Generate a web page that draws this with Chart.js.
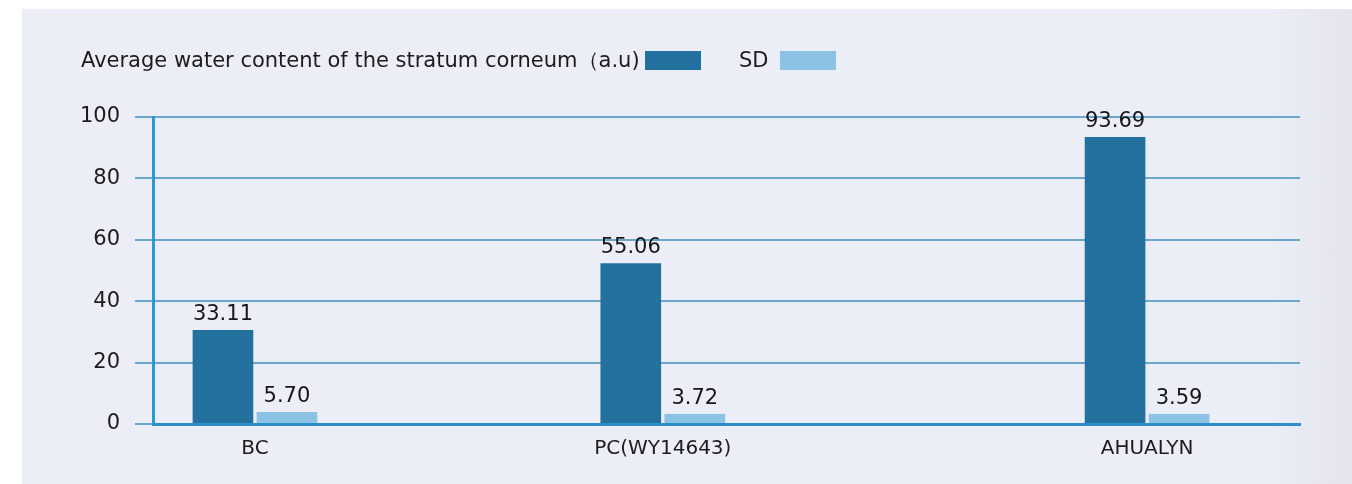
<!DOCTYPE html>
<html lang="en">
    <head>
        <meta charset="UTF-8">
        <title>Average water content of the stratum corneum</title>
        <script src="https://cdn.jsdelivr.net/npm/chart.js"></script>
        <style>
            body {
                margin: 0;
                background: white;
                font-family: 'DejaVu Sans', sans-serif;
            }
            .panel {
                position: absolute;
                left: 22px;
                top: 9px;
                width: 1330px;
                height: 475px;
                background: linear-gradient(to right, #ebeef6 0%, #ebeef6 94%, #e3e4ec 100%);
            }
            .legend span {
                position: absolute;
                font-size: 21px;
                line-height: 24px;
                color: #1c1c1c;
                white-space: nowrap;
            }
            .legend .box {
                height: 19px;
                width: 56px;
                top: 42px;
            }
            canvas {
                position: absolute;
                left: 0;
                top: 0;
            }
        </style>
    </head>
    <body>
        <div class="panel">
            <canvas id="waterChart" width="1330" height="475"></canvas>
            <div class="legend" id="legend"></div>
        </div>
        <script>
            // data
            const categories = ['BC', 'PC(WY14643)', 'AHUALYN'];
            const waterValues = [30.6, 52.4, 93.5];
            const sdValues = [3.9, 3.3, 3.3];
            const waterLabels = ['33.11', '55.06', '93.69'];
            const sdLabels = ['5.70', '3.72', '3.59'];
            const seriesNames = ['Average water content of the stratum corneum\uFF08a.u)', 'SD'];
            const yTicks = [0, 20, 40, 60, 80, 100];

            // the groups are not evenly spaced, so the x axis has 46 slots
            const slotCount = 46;
            const categorySlots = [4, 20, 39];
            const axisLabels = [];
            for (let i = 0; i < slotCount; i++) {
                const k = categorySlots.indexOf(i);
                axisLabels.push(k >= 0 ? categories[k] : '');
            }

            const darkBlue = '#23719f';
            const lightBlue = '#8cc3e5';
            const fontFamily = '"DejaVu Sans", sans-serif';

            const legend = document.getElementById('legend');
            legend.innerHTML = `
                <span style="left:59px;top:39px">${seriesNames[0]}</span>
                <span class="box" style="left:623px;background:${darkBlue}"></span>
                <span style="left:717px;top:39px">${seriesNames[1]}</span>
                <span class="box" style="left:758px;background:${lightBlue}"></span>
            `;

            const valueLabels = {
                id: 'valueLabels',
                afterDatasetsDraw(chart) {
                    const ctx = chart.ctx;
                    const texts = [waterLabels, sdLabels];
                    ctx.save();
                    ctx.font = '21px ' + fontFamily;
                    ctx.fillStyle = '#161616';
                    ctx.textAlign = 'center';
                    ctx.textBaseline = 'bottom';
                    chart.data.datasets.forEach(function(ds, di) {
                        chart.getDatasetMeta(di).data.forEach(function(bar, i) {
                            ctx.fillText(texts[di][i], bar.x, bar.y - 5);
                        });
                    });
                    ctx.restore();
                }
            };

            const ctx = document.getElementById('waterChart').getContext('2d');
            new Chart(ctx, {
                type: 'bar',
                data: {
                    labels: axisLabels,
                    datasets: [{
                        label: seriesNames[0],
                        data: categories.map(function(c, i) { return { x: c, y: waterValues[i] }; }),
                        backgroundColor: darkBlue,
                        borderColor: 'rgba(0,0,0,0)',
                        borderWidth: { left: 2, right: 2, top: 0, bottom: 0 },
                        barThickness: 64
                    }, {
                        label: seriesNames[1],
                        data: categories.map(function(c, i) { return { x: c, y: sdValues[i] }; }),
                        backgroundColor: lightBlue,
                        borderColor: 'rgba(0,0,0,0)',
                        borderWidth: { left: 2, right: 2, top: 0, bottom: 0 },
                        barThickness: 64
                    }]
                },
                options: {
                    responsive: false,
                    animation: false,
                    layout: { padding: { top: 108, right: 52, bottom: 0, left: 0 } },
                    plugins: {
                        legend: { display: false },
                        tooltip: { enabled: false }
                    },
                    scales: {
                        x: {
                            offset: false,
                            grid: { display: false, drawTicks: false },
                            border: { display: true, color: '#2c8fc6', width: 3 },
                            ticks: {
                                autoSkip: false,
                                maxRotation: 0,
                                padding: 13,
                                color: '#1c1c1c',
                                font: { size: 20, family: fontFamily }
                            },
                            afterFit: function(scale) { scale.height = 60; }
                        },
                        y: {
                            min: 0,
                            max: 100,
                            afterBuildTicks: function(scale) {
                                scale.ticks = yTicks.map(function(v) { return { value: v }; });
                            },
                            grid: {
                                color: '#6aa7c9',
                                lineWidth: 2,
                                drawTicks: true,
                                tickLength: 18
                            },
                            border: { display: true, color: '#2a9ad0', width: 3 },
                            ticks: {
                                padding: 15,
                                color: '#1c1c1c',
                                font: { size: 21, family: fontFamily }
                            },
                            afterFit: function(scale) { scale.width = 131; }
                        }
                    }
                },
                plugins: [valueLabels]
            });
        </script>
    </body>
</html>
